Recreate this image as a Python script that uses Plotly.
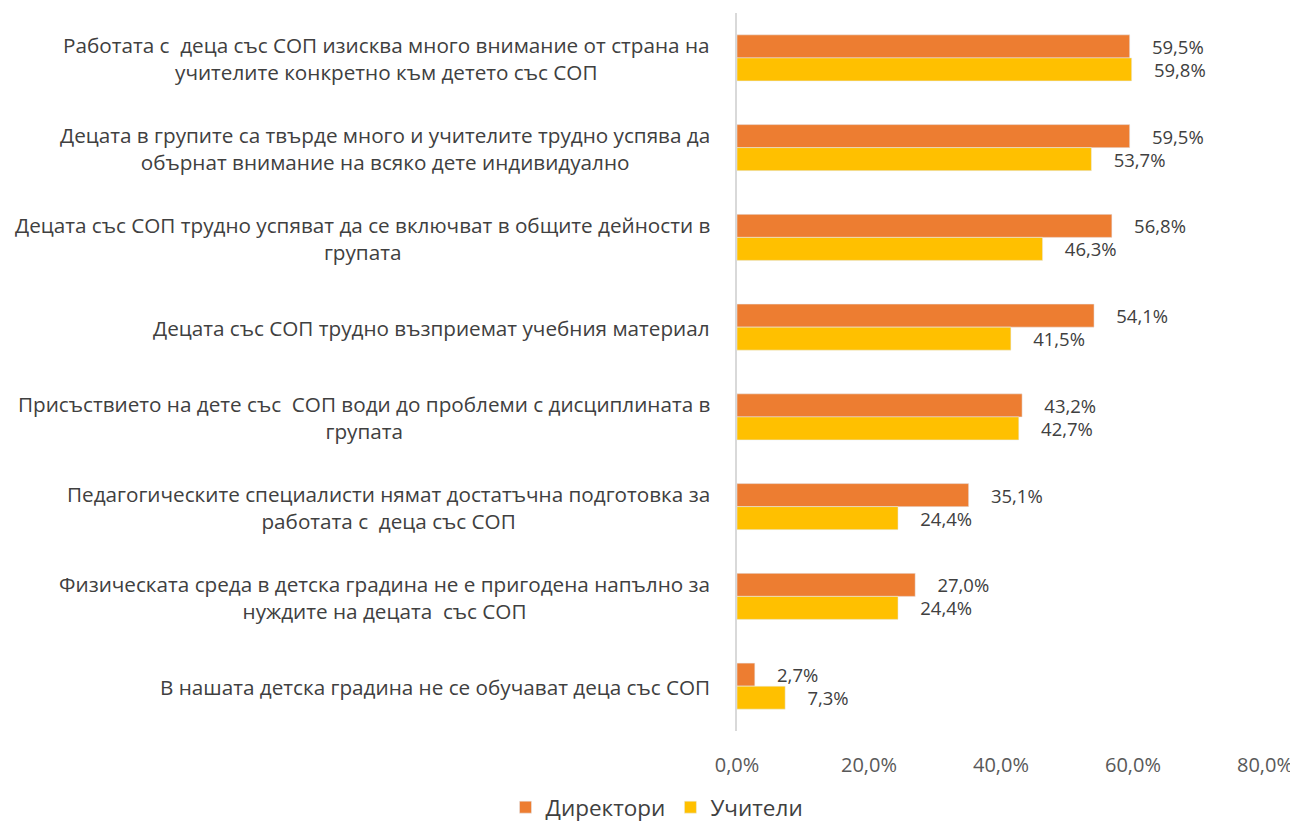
import plotly.graph_objects as go

categories = [
    "Работата с  деца със СОП изисква много внимание от страна на<br>учителите конкретно към детето със СОП",
    "Децата в групите са твърде много и учителите трудно успява да<br>обърнат внимание на всяко дете индивидуално",
    "Децата със СОП трудно успяват да се включват в общите дейности в<br>групата",
    "Децата със СОП трудно възприемат учебния материал",
    "Присъствието на дете със  СОП води до проблеми с дисциплината в<br>групата",
    "Педагогическите специалисти нямат достатъчна подготовка за<br>работата с  деца със СОП",
    "Физическата среда в детска градина не е пригодена напълно за<br>нуждите на децата  със СОП",
    "В нашата детска градина не се обучават деца със СОП",
]
directors = [59.5, 59.5, 56.8, 54.1, 43.2, 35.1, 27.0, 2.7]
teachers = [59.8, 53.7, 46.3, 41.5, 42.7, 24.4, 24.4, 7.3]
tick_vals = [0, 20, 40, 60, 80]
tick_labels = ["0,0%", "20,0%", "40,0%", "60,0%", "80,0%"]

FONT = "Open Sans"
FS = 20.7
LBL = 18.5
PAD = "\u00a0" * 4

def lab(v):
    return PAD + f"{v:.1f}".replace(".", ",") + "%"

fig = go.Figure()
fig.add_trace(go.Bar(
    name="Директори", y=categories, x=directors, orientation="h",
    marker=dict(color="#ED7D31"),
    text=[lab(v) for v in directors], textposition="outside", constraintext="none",
    textfont=dict(size=LBL, color="#404040", family=FONT), cliponaxis=False,
))
fig.add_trace(go.Bar(
    name="Учители", y=categories, x=teachers, orientation="h",
    marker=dict(color="#FFC000"),
    text=[lab(v) for v in teachers], textposition="outside", constraintext="none",
    textfont=dict(size=LBL, color="#404040", family=FONT), cliponaxis=False,
))

for c in categories:
    fig.add_annotation(
        x=-0.047, xref="paper", y=c, yref="y", text=c, showarrow=False,
        xanchor="right", align="center", yshift=-1,
        font=dict(size=FS, color="#404040", family=FONT),
    )

fig.update_layout(
    width=1298, height=821,
    paper_bgcolor="white", plot_bgcolor="white",
    margin=dict(l=729, r=41, t=5, b=98),
    barmode="group", bargap=0.487, bargroupgap=0,
    separators=",.",
    showlegend=True,
    legend=dict(orientation="h", x=0.5, xref="container", xanchor="center",
                y=0.0, yref="container", yanchor="bottom",
                font=dict(size=22.5, color="#404040", family=FONT),
                itemwidth=30, traceorder="normal"),
    xaxis=dict(range=[0, 80], tickmode="array", tickvals=tick_vals, ticktext=tick_labels,
               showgrid=False, zeroline=False, showline=False,
               tickfont=dict(size=20, color="#595959", family=FONT),
               ticklabelstandoff=20),
    yaxis=dict(autorange="reversed", showticklabels=False, showgrid=False,
               showline=True, linecolor="#D9D9D9", linewidth=2, ticks=""),
)

fig.write_html("out.html")
